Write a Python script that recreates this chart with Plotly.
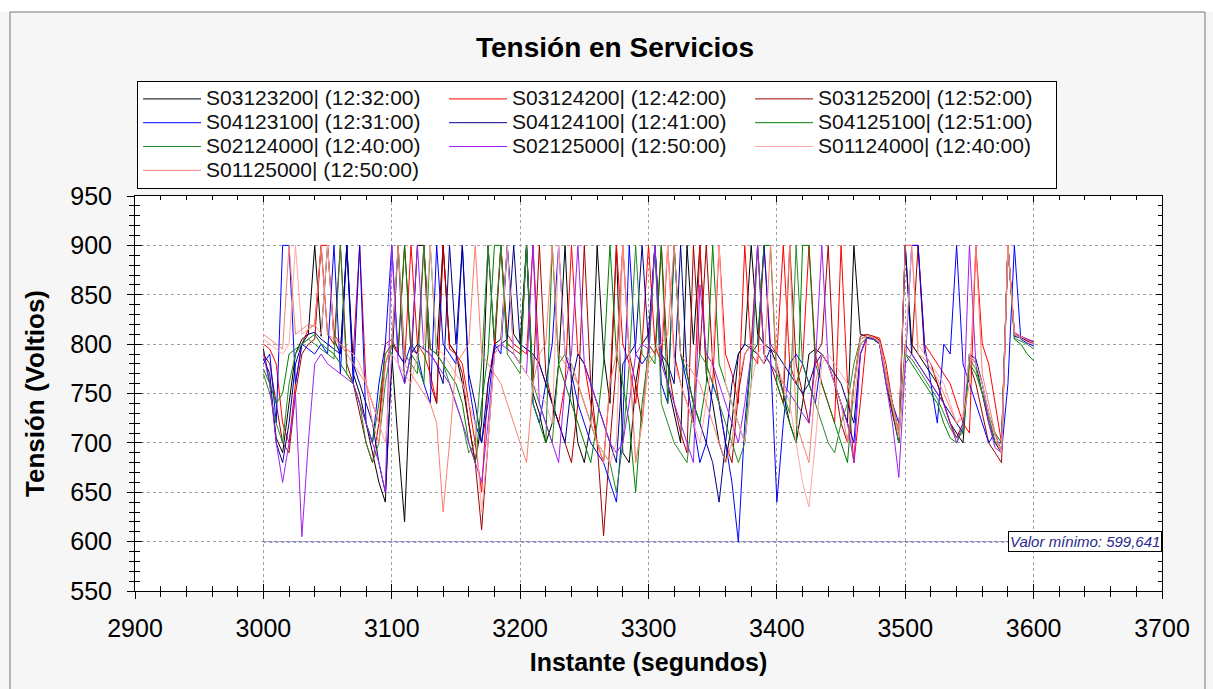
import plotly.graph_objects as go

# ---- data -------------------------------------------------------------
times = list(range(3000, 3601, 5))

labels = ["S03123200| (12:32:00)", "S03124200| (12:42:00)", "S03125200| (12:52:00)",
          "S04123100| (12:31:00)", "S04124100| (12:41:00)", "S04125100| (12:51:00)",
          "S02124000| (12:40:00)", "S02125000| (12:50:00)", "S01124000| (12:40:00)",
          "S01125000| (12:50:00)"]

s03123200 = [795, 760, 705, 690, 740, 790, 805, 810, 900, 808,
             900, 805, 790, 900, 770, 750, 720, 690, 660, 640,
             790, 700, 620, 780, 900, 900, 795, 790, 900, 800,
             790, 760, 720, 680, 720, 900, 800, 805, 900, 810,
             800, 900, 750, 730, 700, 720, 780, 900, 760, 700,
             680, 720, 900, 790, 740, 900, 690, 680, 760, 800,
             810, 900, 790, 760, 730, 700, 900, 800, 900, 770,
             740, 700, 680, 720, 790, 800, 900, 810, 800, 795,
             780, 750, 720, 700, 740, 790, 795, 790, 780, 760,
             740, 720, 900, 810, 808, 806, 800, 760, 730, 700,
             900, 800, 790, 780, 770, 760, 740, 720, 710, 700,
             790, 780, 750, 720, 700, 690, 900, 810, 806, 804,
             800]
s03124200 = [800, 795, 780, 720, 700, 760, 800, 815, 820, 900,
             900, 810, 800, 795, 790, 900, 760, 740, 720, 800,
             805, 790, 780, 900, 800, 790, 770, 740, 900, 795,
             790, 780, 740, 700, 650, 760, 800, 900, 810, 800,
             795, 790, 900, 780, 760, 740, 720, 760, 900, 790,
             780, 740, 700, 680, 760, 900, 800, 780, 740, 800,
             900, 800, 780, 900, 790, 760, 740, 720, 900, 780,
             760, 900, 790, 770, 740, 900, 790, 780, 900, 800,
             790, 900, 780, 760, 780, 900, 790, 760, 740, 720,
             900, 760, 680, 740, 808, 808, 806, 780, 740, 710,
             900, 900, 900, 800, 790, 780, 770, 760, 740, 720,
             710, 900, 800, 780, 740, 700, 900, 812, 808, 803,
             800]
s03125200 = [790, 780, 740, 700, 690, 750, 790, 800, 805, 900,
             810, 800, 900, 780, 760, 730, 700, 680, 720, 780,
             800, 790, 900, 795, 790, 900, 760, 740, 900, 800,
             790, 770, 720, 680, 612, 700, 790, 900, 800, 795,
             790, 900, 760, 900, 770, 740, 720, 700, 680, 740,
             900, 760, 700, 606, 700, 780, 900, 790, 760, 720,
             800, 790, 900, 780, 740, 710, 690, 900, 790, 900,
             780, 740, 700, 680, 750, 790, 800, 900, 790, 780,
             760, 740, 900, 780, 750, 720, 790, 800, 900, 760,
             720, 700, 760, 808, 810, 808, 804, 770, 730, 705,
             800, 790, 900, 790, 780, 760, 740, 720, 705, 720,
             780, 760, 730, 700, 690, 680, 900, 810, 808, 805,
             802]
s04123100 = [780, 790, 720, 900, 900, 760, 800, 795, 790, 800,
             790, 900, 770, 900, 760, 900, 720, 700, 760, 800,
             900, 790, 780, 800, 790, 760, 740, 900, 800, 790,
             780, 900, 760, 720, 700, 740, 800, 790, 900, 790,
             780, 900, 740, 720, 760, 800, 900, 790, 770, 740,
             720, 700, 690, 680, 660, 640, 720, 900, 790, 780,
             790, 900, 760, 740, 900, 790, 760, 720, 680, 700,
             760, 740, 700, 660, 599.641, 720, 790, 800, 900, 790,
             640, 720, 780, 790, 780, 760, 740, 790, 780, 760,
             740, 720, 700, 790, 806, 805, 800, 770, 740, 720,
             780, 900, 900, 800, 760, 720, 800, 790, 900, 780,
             760, 740, 720, 700, 710, 690, 760, 900, 805, 801,
             798]
s04124100 = [785, 770, 700, 680, 720, 780, 800, 810, 812, 805,
             800, 795, 790, 900, 780, 760, 740, 720, 680, 650,
             780, 900, 760, 790, 800, 795, 790, 780, 760, 900,
             800, 900, 770, 740, 700, 760, 795, 800, 805, 900,
             800, 795, 790, 780, 760, 740, 720, 700, 760, 790,
             780, 760, 740, 720, 700, 680, 780, 790, 800, 900,
             800, 900, 790, 780, 760, 900, 770, 740, 720, 700,
             680, 640, 700, 760, 790, 800, 795, 790, 780, 795,
             790, 780, 770, 760, 750, 760, 780, 790, 780, 770,
             760, 740, 720, 790, 807, 806, 802, 770, 740, 700,
             900, 790, 780, 770, 760, 750, 740, 730, 720, 710,
             790, 785, 760, 730, 700, 700, 900, 808, 806, 803,
             800]
s04125100 = [775, 760, 740, 750, 790, 795, 800, 805, 810, 800,
             795, 790, 780, 770, 760, 740, 720, 700, 740, 790,
             800, 795, 900, 790, 780, 760, 900, 790, 780, 770,
             760, 740, 700, 680, 740, 790, 900, 900, 795, 790,
             780, 900, 740, 720, 700, 900, 780, 760, 740, 720,
             700, 680, 720, 780, 900, 790, 760, 720, 650, 740,
             790, 780, 900, 740, 900, 790, 770, 740, 720, 760,
             900, 780, 760, 740, 720, 700, 790, 800, 900, 900,
             760, 740, 720, 700, 900, 900, 780, 760, 740, 720,
             700, 680, 760, 800, 806, 805, 800, 770, 740, 710,
             790, 780, 770, 760, 750, 740, 720, 705, 700, 715,
             780, 770, 750, 730, 710, 700, 900, 805, 800, 790,
             783]
s02124000 = [770, 750, 720, 700, 760, 790, 800, 805, 800, 795,
             790, 785, 900, 770, 760, 740, 700, 680, 700, 760,
             800, 900, 790, 780, 770, 900, 795, 790, 780, 760,
             740, 720, 690, 700, 780, 900, 805, 900, 790, 780,
             770, 900, 760, 740, 720, 700, 780, 790, 780, 760,
             740, 720, 700, 690, 680, 650, 700, 780, 900, 790,
             780, 900, 740, 720, 700, 690, 680, 740, 790, 780,
             760, 740, 720, 700, 680, 700, 760, 900, 790, 780,
             770, 750, 730, 900, 780, 760, 740, 720, 700, 690,
             720, 740, 780, 805, 808, 806, 801, 770, 735, 700,
             790, 785, 775, 765, 755, 745, 730, 715, 705, 710,
             785, 775, 750, 725, 700, 695, 900, 806, 803, 800,
             795]
s02125000 = [790, 760, 700, 660, 700, 750, 605, 700, 780, 790,
             780, 775, 770, 765, 760, 740, 720, 700, 680, 650,
             900, 780, 760, 790, 900, 795, 790, 780, 770, 760,
             740, 720, 700, 680, 660, 720, 790, 800, 795, 790,
             780, 770, 900, 740, 720, 700, 680, 760, 790, 900,
             780, 760, 740, 720, 700, 690, 700, 740, 790, 800,
             795, 900, 780, 760, 740, 720, 700, 680, 860, 790,
             780, 760, 740, 720, 700, 740, 790, 900, 790, 780,
             770, 760, 750, 740, 730, 720, 780, 900, 780, 760,
             740, 720, 680, 790, 806, 806, 800, 760, 720, 665,
             780, 790, 780, 770, 760, 750, 740, 720, 700, 720,
             900, 780, 760, 720, 695, 690, 900, 810, 808, 805,
             803]
s01124000 = [805, 800, 795, 790, 800, 900, 810, 815, 820, 810,
             900, 805, 800, 795, 790, 780, 760, 740, 720, 700,
             790, 780, 770, 760, 790, 800, 900, 795, 790, 780,
             770, 760, 740, 720, 630, 700, 790, 800, 900, 790,
             780, 770, 760, 750, 740, 720, 900, 790, 780, 760,
             740, 720, 700, 690, 680, 700, 900, 790, 680, 720,
             790, 795, 800, 900, 780, 760, 740, 720, 700, 740,
             790, 900, 760, 740, 720, 700, 760, 790, 800, 790,
             780, 760, 740, 700, 660, 635, 700, 780, 790, 780,
             770, 760, 740, 800, 808, 807, 802, 770, 735, 705,
             790, 900, 800, 790, 780, 770, 760, 740, 720, 730,
             790, 780, 760, 730, 705, 690, 900, 810, 806, 802,
             800]
s01125000 = [810, 805, 800, 795, 900, 810, 815, 820, 818, 900,
             810, 805, 800, 790, 780, 770, 760, 720, 700, 780,
             800, 900, 780, 770, 760, 750, 740, 720, 630, 700,
             780, 790, 800, 900, 790, 780, 770, 760, 740, 720,
             700, 680, 760, 790, 800, 900, 790, 780, 770, 760,
             740, 720, 700, 680, 760, 790, 900, 790, 680, 720,
             780, 790, 800, 810, 900, 790, 780, 770, 760, 740,
             720, 700, 680, 700, 760, 790, 800, 790, 780, 900,
             770, 760, 900, 720, 700, 680, 760, 790, 780, 760,
             740, 700, 760, 805, 809, 807, 803, 770, 740, 710,
             900, 900, 790, 785, 775, 765, 750, 735, 720, 725,
             760, 900, 770, 740, 710, 690, 900, 812, 808, 804,
             801]

series = [s03123200, s03124200, s03125200, s04123100, s04124100,
          s04125100, s02124000, s02125000, s01124000, s01125000]
colors = ["#000000", "#ff0000", "#a00000", "#0000ff", "#00008b",
          "#008000", "#2a8a2a", "#a020f0", "#ffa8a8", "#fa8072"]

min_val = min(min(s) for s in series)

# ---- figure -----------------------------------------------------------
FONT = "Arial, Liberation Sans, sans-serif"
fig = go.Figure()
n = len(series)
for i, (lab, ys, c) in enumerate(zip(labels, series, colors)):
    last = (i == n - 1)
    fig.add_trace(go.Scatter(x=times, y=ys, mode="lines",
                             name='<span style="font-size:21px">' + lab + '</span>',
                             line=dict(color=c, width=1),
                             xaxis="x2" if last else "x", yaxis="y2" if last else "y"))

fig.add_trace(go.Scatter(x=[times[0], times[-1]], y=[min_val, min_val], mode="lines",
                         line=dict(color="#3030a0", width=1, dash="dot"),
                         showlegend=False, hoverinfo="skip", xaxis="x3", yaxis="y3"))

fig.add_annotation(x=3700, y=min_val, xref="x", yref="y", xanchor="right", yanchor="middle",
                   text=("<i>Valor mínimo: " + f"{min_val:.3f}".replace(".", ",") + "</i>"),
                   showarrow=False, bgcolor="white", bordercolor="black", borderwidth=1,
                   borderpad=1, font=dict(family=FONT, size=15, color="#2a2a8a"))

common_x = dict(range=[2900, 3700], dtick=100, tick0=2900, fixedrange=True)
common_y = dict(range=[550, 950], dtick=50, tick0=550, fixedrange=True)

fig.update_layout(
    width=1213, height=689,
    margin=dict(l=135, r=51, t=196, b=98),
    paper_bgcolor="#f6f6f6", plot_bgcolor="white",
    title=dict(text="<b>Tensión en Servicios</b>", x=0.507, xanchor="center",
               y=1 - 47 / 689, yanchor="middle", yref="container",
               font=dict(family=FONT, size=28, color="black")),
    font=dict(family=FONT, color="black"),
    showlegend=True,
    legend=dict(orientation="h", x=0.002, y=(591 - 81) / 395, xanchor="left", yanchor="top",
                bgcolor="white", bordercolor="black", borderwidth=1,
                font=dict(family=FONT, size=16, color="#111"),
                entrywidth=233, entrywidthmode="pixels", traceorder="normal",
                itemwidth=58),
    xaxis=dict(**common_x, showline=True, linecolor="black", linewidth=1,
               ticks="outside", ticklen=7, tickcolor="black", ticklabelstandoff=8,
               minor=dict(dtick=20, ticks="outside", ticklen=5, tickcolor="black", showgrid=False),
               showgrid=True, gridcolor="#a0a0a0", griddash="dot", gridwidth=1,
               zeroline=False, tickfont=dict(size=25),
               title=dict(text="<b>Instante (segundos)</b>", font=dict(size=25), standoff=12)),
    yaxis=dict(**common_y, showline=True, linecolor="black", linewidth=1,
               ticks="outside", ticklen=7, tickcolor="black", ticklabelstandoff=10,
               minor=dict(dtick=10, ticks="outside", ticklen=5, tickcolor="black", showgrid=False),
               showgrid=True, gridcolor="#a0a0a0", griddash="dot", gridwidth=1,
               zeroline=False, tickfont=dict(size=25),
               title=dict(text="<b>Tensión (Voltios)</b>", font=dict(size=26), standoff=18)),
    xaxis2=dict(**common_x, overlaying="x", side="bottom", anchor="y2", showline=False,
                ticks="inside", ticklen=7, tickcolor="black", showticklabels=False,
                showgrid=False, zeroline=False,
                minor=dict(dtick=20, ticks="inside", ticklen=5, tickcolor="black")),
    yaxis2=dict(**common_y, overlaying="y", side="left", anchor="x2", showline=False,
                ticks="inside", ticklen=7, tickcolor="black", showticklabels=False,
                showgrid=False, zeroline=False,
                minor=dict(dtick=10, ticks="inside", ticklen=5, tickcolor="black")),
    xaxis3=dict(**common_x, overlaying="x", side="top", anchor="y3", showline=True,
                linecolor="black", ticks="inside", ticklen=6, tickcolor="black",
                showticklabels=False, showgrid=False, zeroline=False,
                minor=dict(dtick=20, ticks="inside", ticklen=4, tickcolor="black")),
    yaxis3=dict(**common_y, overlaying="y", side="right", anchor="x3", showline=True,
                linecolor="black", ticks="inside", ticklen=6, tickcolor="black",
                showticklabels=False, showgrid=False, zeroline=False,
                minor=dict(dtick=10, ticks="inside", ticklen=4, tickcolor="black")),
)

# outer frame of the picture
W, H = 1213, 689
L, R, T, B = 135, 51, 196, 98
pw, ph = W - L - R, H - T - B
def px(xp): return (xp - L) / pw
def py(yp): return (H - B - yp) / ph
fig.add_shape(type="rect", xref="paper", yref="paper", x0=px(0), x1=px(W), y0=py(12), y1=py(0),
              fillcolor="white", line=dict(width=0), layer="below")
fig.add_shape(type="rect", xref="paper", yref="paper", x0=px(10), x1=px(1205), y0=py(H + 5), y1=py(12),
              fillcolor="rgba(0,0,0,0)", line=dict(color="#777", width=1), layer="below")

fig.write_html("out.html", config={"displayModeBar": False},
               post_script="document.body.style.margin='0';")
